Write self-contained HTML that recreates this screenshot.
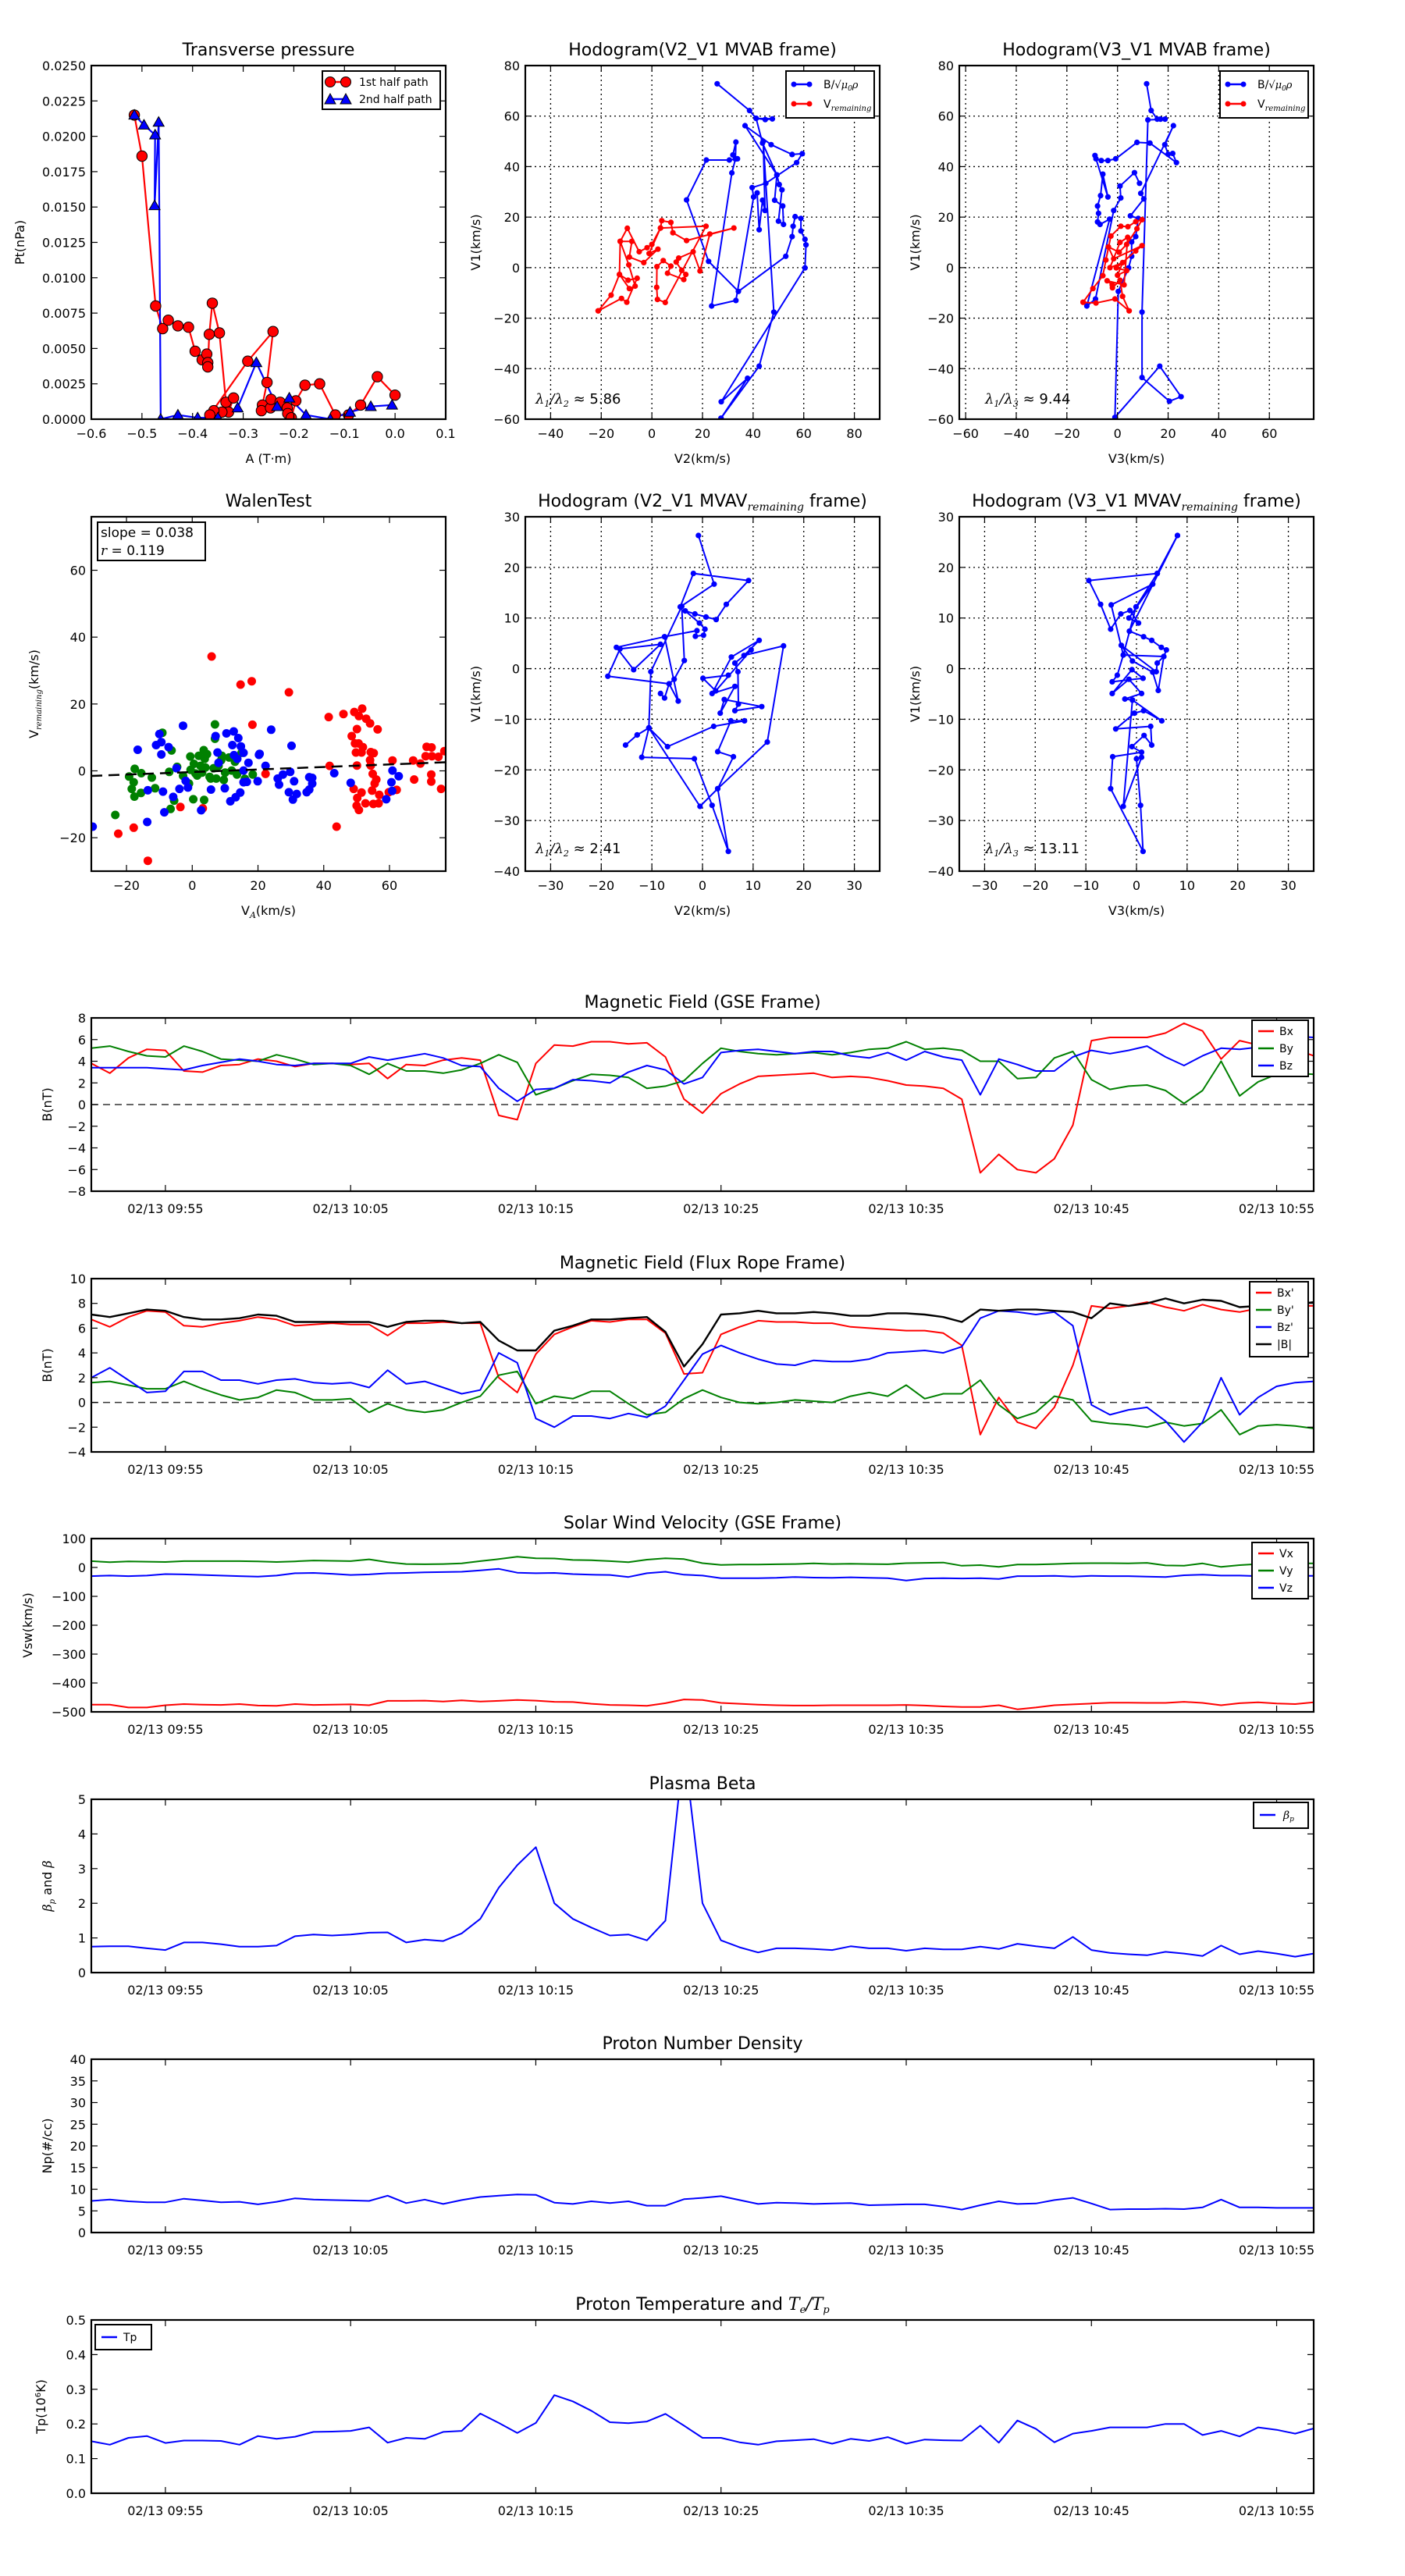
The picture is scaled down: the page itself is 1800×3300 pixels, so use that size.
<!DOCTYPE html>
<html><head><meta charset="utf-8">
<style>
html,body{margin:0;padding:0;background:#fff;}
svg{display:block;font-family:"DejaVu Sans","Liberation Sans",sans-serif;}
</style></head>
<body>
<svg id="fig" width="1800" height="3300" viewBox="0 0 1800 3300" xmlns="http://www.w3.org/2000/svg">
<rect x="0" y="0" width="1800" height="3300" fill="#fff"/>
</svg>
<script>
// ---------- time series data (1-min cadence, index 0 = 09:51) ----------
const timeTickIdx=[4,14,24,34,44,54,64];
const timeTickLabels=["02/13 09:55","02/13 10:05","02/13 10:15","02/13 10:25","02/13 10:35","02/13 10:45","02/13 10:55"];
const gseBx=[3.8,2.9,4.3,5.1,5.0,3.1,3.0,3.6,3.7,4.2,4.0,3.5,3.8,3.8,3.7,3.8,2.4,3.7,3.6,4.1,4.3,4.1,-1.0,-1.4,3.8,5.5,5.4,5.8,5.8,5.6,5.7,4.4,0.5,-0.8,1.0,1.9,2.6,2.7,2.8,2.9,2.5,2.6,2.5,2.2,1.8,1.7,1.5,0.5,-6.3,-4.6,-6.0,-6.3,-5.0,-1.9,5.9,6.2,6.2,6.2,6.6,7.5,6.8,4.2,5.9,5.5,5.3,5.1,4.5];
const gseBy=[5.2,5.4,4.9,4.5,4.4,5.4,4.9,4.2,4.1,4.0,4.6,4.2,3.7,3.8,3.6,2.8,3.8,3.1,3.1,2.9,3.2,3.8,4.6,3.9,0.9,1.5,2.2,2.8,2.7,2.5,1.5,1.7,2.2,3.8,5.2,4.9,4.7,4.6,4.7,4.8,4.6,4.8,5.1,5.2,5.8,5.1,5.2,5.0,4.0,4.0,2.4,2.5,4.3,4.9,2.3,1.4,1.7,1.8,1.3,0.1,1.3,4.0,0.8,2.1,2.8,2.9,2.8];
const gseBz=[3.4,3.4,3.4,3.4,3.3,3.2,3.6,3.9,4.2,4.0,3.7,3.6,3.8,3.8,3.8,4.4,4.1,4.4,4.7,4.3,3.6,3.5,1.5,0.3,1.4,1.5,2.3,2.2,2.0,3.0,3.6,3.2,1.9,2.5,4.8,5.0,5.1,4.9,4.7,4.9,4.9,4.5,4.3,4.8,4.1,4.9,4.4,4.1,0.9,4.2,3.7,3.1,3.1,4.4,5.0,4.7,5.0,5.4,4.4,3.6,4.5,5.2,5.1,5.3,6.2,6.3,6.2];
const frBx=[6.7,6.1,6.9,7.4,7.3,6.2,6.1,6.4,6.6,6.9,6.7,6.2,6.3,6.4,6.3,6.3,5.4,6.4,6.4,6.5,6.4,6.4,2.0,0.8,3.9,5.5,6.1,6.6,6.5,6.7,6.7,5.6,2.3,2.4,5.5,6.1,6.6,6.5,6.5,6.4,6.4,6.1,6.0,5.9,5.8,5.8,5.6,4.6,-2.6,0.4,-1.6,-2.1,-0.4,3.0,7.8,7.6,7.8,8.1,7.7,7.4,7.9,7.5,7.3,7.6,7.7,7.8,7.8];
const frBy=[1.6,1.7,1.4,1.1,1.1,1.7,1.1,0.6,0.2,0.4,1.0,0.8,0.2,0.2,0.3,-0.8,-0.1,-0.6,-0.8,-0.6,0.0,0.5,2.2,2.5,-0.1,0.5,0.3,0.9,0.9,-0.1,-1.0,-0.8,0.3,1.0,0.4,0.0,-0.1,0.0,0.2,0.1,0.0,0.5,0.8,0.5,1.4,0.3,0.7,0.7,1.8,-0.2,-1.3,-0.8,0.5,0.2,-1.5,-1.7,-1.8,-2.0,-1.6,-1.9,-1.7,-0.6,-2.6,-1.9,-1.8,-1.9,-2.1];
const frBz=[2.0,2.8,1.8,0.8,0.9,2.5,2.5,1.8,1.8,1.5,1.8,1.9,1.6,1.5,1.6,1.2,2.6,1.5,1.7,1.2,0.7,1.0,4.0,3.2,-1.3,-2.0,-1.1,-1.1,-1.3,-0.9,-1.2,-0.3,1.8,3.9,4.6,4.0,3.5,3.1,3.0,3.4,3.3,3.3,3.5,4.0,4.1,4.2,4.0,4.5,6.8,7.4,7.3,7.1,7.3,6.2,-0.2,-1.0,-0.6,-0.4,-1.5,-3.2,-1.6,2.0,-1.0,0.4,1.3,1.6,1.7];
const frBt=[7.1,6.9,7.2,7.5,7.4,6.9,6.7,6.7,6.8,7.1,7.0,6.5,6.5,6.5,6.5,6.5,6.1,6.5,6.6,6.6,6.4,6.5,5.0,4.2,4.2,5.8,6.2,6.7,6.7,6.8,6.9,5.7,2.9,4.7,7.1,7.2,7.4,7.2,7.2,7.3,7.2,7.0,7.0,7.2,7.2,7.1,6.9,6.5,7.5,7.4,7.5,7.5,7.4,7.3,6.8,8.0,7.8,8.0,8.4,8.0,8.3,8.2,7.7,7.8,7.8,7.9,8.1];
const velVx=[-475,-475,-485,-485,-477,-473,-475,-476,-473,-478,-479,-473,-476,-475,-474,-477,-462,-462,-461,-464,-460,-464,-462,-459,-461,-465,-466,-472,-476,-477,-479,-470,-457,-459,-469,-472,-475,-477,-478,-478,-477,-477,-477,-477,-476,-478,-481,-483,-483,-477,-491,-485,-477,-474,-471,-468,-468,-469,-469,-465,-469,-477,-470,-467,-471,-473,-467];
const velVy=[22,18,21,20,19,22,22,22,22,21,19,21,24,23,22,28,18,12,11,12,14,22,29,37,32,31,26,25,22,18,27,32,29,15,9,10,10,11,12,14,12,13,12,11,15,16,17,6,8,2,10,10,12,14,15,15,14,16,7,6,14,2,8,12,15,14,14];
const velVz=[-30,-28,-30,-28,-23,-24,-26,-28,-30,-32,-28,-20,-19,-22,-26,-24,-20,-19,-17,-16,-15,-10,-5,-18,-20,-19,-23,-25,-26,-33,-20,-15,-25,-28,-37,-37,-37,-36,-33,-35,-36,-34,-36,-37,-45,-38,-37,-38,-37,-40,-30,-30,-29,-32,-29,-30,-30,-32,-33,-27,-25,-28,-28,-30,-30,-29,-29];
const betaP=[.75,.76,.76,.7,.65,.87,.87,.82,.75,.75,.78,1.05,1.1,1.07,1.1,1.15,1.16,.87,.95,.91,1.13,1.55,2.45,3.1,3.62,2.0,1.55,1.3,1.07,1.1,.93,1.5,6.5,2.0,.93,.73,.58,.7,.7,.68,.65,.76,.7,.7,.63,.7,.67,.67,.75,.68,.83,.76,.7,1.03,.65,.57,.53,.5,.6,.55,.48,.78,.53,.62,.55,.46,.55];
const densNp=[7.3,7.6,7.2,7.0,7.0,7.8,7.4,7.0,7.1,6.5,7.1,7.9,7.6,7.5,7.4,7.3,8.5,6.8,7.6,6.6,7.5,8.2,8.5,8.8,8.7,6.9,6.6,7.2,6.8,7.2,6.2,6.2,7.7,8.0,8.4,7.5,6.6,6.9,6.8,6.6,6.7,6.8,6.3,6.4,6.5,6.5,6.0,5.3,6.3,7.2,6.6,6.7,7.5,8.0,6.7,5.3,5.4,5.4,5.5,5.4,5.8,7.6,5.8,5.8,5.7,5.7,5.7];
const tempTp=[.15,.14,.16,.165,.145,.152,.152,.151,.14,.165,.157,.163,.177,.178,.18,.19,.146,.16,.157,.177,.18,.23,.203,.174,.203,.283,.265,.238,.205,.202,.207,.229,.195,.16,.16,.147,.14,.15,.153,.156,.143,.157,.151,.162,.143,.155,.153,.152,.195,.146,.21,.186,.147,.172,.18,.19,.19,.19,.2,.2,.168,.18,.164,.19,.183,.172,.187];

// ---------- top-left: transverse pressure ----------
const tpRedA=[-0.515,-0.500,-0.473,-0.459,-0.448,-0.429,-0.408,-0.395,-0.381,-0.372,-0.370,-0.370,-0.367,-0.361,-0.347,-0.334,-0.319,-0.329,-0.342,-0.358,-0.366,-0.291,-0.241,-0.253,-0.262,-0.264,-0.246,-0.245,-0.227,-0.213,-0.212,-0.205,-0.196,-0.178,-0.149,-0.118,-0.092,-0.068,-0.035,0.0];
const tpRedPt=[0.0215,0.0186,0.0080,0.0064,0.0070,0.0066,0.0065,0.0048,0.0042,0.0046,0.0040,0.0037,0.0060,0.0082,0.0061,0.0012,0.0015,0.0005,0.0005,0.0006,0.0003,0.0041,0.0062,0.0026,0.0010,0.0006,0.0008,0.0014,0.0012,0.0008,0.0004,0.0001,0.0013,0.0024,0.0025,0.0003,0.0003,0.0010,0.0030,0.0017];
const tpBlueA=[-0.515,-0.496,-0.474,-0.475,-0.467,-0.463,-0.429,-0.390,-0.350,-0.311,-0.274,-0.233,-0.209,-0.176,-0.128,-0.089,-0.048,-0.006];
const tpBluePt=[0.0215,0.0208,0.0201,0.0151,0.0210,0.0,0.0003,0.0001,0.0001,0.0008,0.0040,0.0009,0.0015,0.0003,0.0000,0.0005,0.0009,0.0010];

// ---------- hodogram V2-V1 (MVAB) ----------
const h1BlueV2=[25.8,38.6,41.2,44.8,47.6,41.2,43.7,49.4,50.3,51.4,50.0,52.0,51.7,48.5,49.4,36.8,47.1,55.4,59.4,57.2,45.0,39.6,40.2,41.6,42.4,43.7,44.7,44.0,48.2,42.4,27.3,37.8,27.4,60.5,60.9,60.5,58.9,58.9,56.6,55.8,55.4,52.9,34.2,22.4,13.7,21.5,30.6,33.8,32.0,33.2,33.0,31.6,23.6,33.2,40.2];
const h1BlueV1=[72.8,62.2,59.1,58.6,58.9,59.1,49.3,36.7,32.9,30.8,18.4,17.1,24.4,26.7,36.7,56.2,48.7,44.8,45.1,41.6,33.4,31.7,28.0,29.6,15.0,26.7,22.6,50.0,-17.6,-39.0,-59.6,-43.8,-53.1,-0.1,9.0,11.2,14.5,19.5,20.2,16.4,12.3,4.5,-9.4,2.5,26.8,42.6,42.6,43.1,44.6,49.7,43.0,37.5,-15.2,-13.0,28.0];
const h1RedV2=[-21.2,-16.1,-12.8,-8.9,-6.6,-9.1,-12.5,-9.7,-5.0,-1.9,0.0,3.4,3.9,7.5,8.3,13.7,32.4,22.9,19.0,16.3,10.6,9.6,11.8,13.4,12.6,6.2,7.5,4.5,2.0,1.9,2.2,5.3,21.4,3.4,-1.1,2.4,-3.2,-8.9,-7.9,-12.5,-12.8,-9.4,-5.8,-9.9,-12.0,-21.2];
const h1RedV1=[-17.1,-10.9,-2.7,-8.3,-7.3,1.1,10.4,15.6,6.3,7.9,9.2,15.7,18.6,17.9,13.8,10.7,15.7,13.3,-1.3,6.3,3.8,2.2,-1.1,-2.7,-4.7,-2.2,0.6,2.8,0.4,-7.8,-12.6,-13.8,16.4,15.7,5.6,7.3,2.0,4.2,10.4,10.4,-2.7,-5.0,-4.2,-13.7,-12.2,-17.1];

// ---------- hodogram V3-V1 (MVAB) ----------
const h2BlueV3=[11.5,13.3,15.7,17.0,18.8,12.0,9.7,9.7,20.5,25.1,16.7,-1.0,0.3,4.4,5.6,5.6,7.2,8.2,5.1,10.4,9.2,22.1,18.7,20.0,21.8,23.3,12.8,7.7,-0.7,-3.8,-6.4,-8.5,-8.9,-3.8,-5.8,-6.7,-7.9,-7.5,-7.9,-6.9,-3.1,-12.1,-8.7,-1.5,1.3,1.0,6.7,8.7];
const h2BlueV1=[72.8,62.2,58.8,58.8,58.8,58.5,-17.6,-43.5,-52.9,-51.1,-39.0,-59.3,-9.4,-0.1,4.5,10.2,12.3,19.5,20.5,27.2,29.4,56.2,48.7,44.9,45.2,41.6,49.3,49.6,43.1,42.4,42.4,43.1,44.4,28.0,37.0,28.5,24.4,21.5,18.1,17.1,19.2,-15.2,-12.4,22.6,27.6,32.3,37.6,33.4];
const h2RedV3=[-13.6,-9.7,-5.8,-4.6,-2.6,1.3,4.1,7.2,9.7,7.7,3.6,0.7,-3.6,-1.5,9.7,7.2,-0.5,3.6,0.0,2.0,-3.0,1.0,4.0,2.6,-4.1,-2.1,-2.0,1.0,2.0,4.6,-1.0,-8.5,-13.6];
const h2RedV1=[-13.7,-8.3,-3.2,3.0,12.5,16.4,16.2,18.2,19.0,15.4,9.2,6.1,8.2,3.5,8.7,6.6,-0.1,-1.2,-3.0,2.0,0.0,10.0,12.0,-6.8,-5.2,-6.8,-8.0,-5.0,-11.4,-17.1,-12.4,-14.0,-13.7];

// ---------- Walen test ----------
const walenRed=[[5.9,34.2],[14.7,25.8],[18.1,26.8],[29.4,23.5],[18.3,13.8],[22.3,-0.9],[-3.6,-10.8],[3.2,-11.2],[-17.8,-17],[-22.5,-18.8],[-13.5,-26.9],[43.9,-16.7],[41.5,16.1],[46,17],[49.3,17.6],[51.7,18.6],[50.7,16.4],[52.9,15.6],[54.1,14.2],[56.4,12.4],[50.1,12.5],[48.5,10.4],[49.5,8.2],[50.6,8.2],[51.9,7.1],[49.8,5.5],[51.5,5.5],[54.3,5.6],[55.2,5.3],[54.1,3.2],[60.9,3.1],[50.1,1.6],[54.3,1.6],[41.8,1.5],[54.9,-0.9],[56.0,-2.6],[55.5,-3.8],[49.1,-5.4],[51.5,-6.5],[54.7,-5.9],[56.9,-7.2],[59.8,-6.4],[62.2,-5.7],[50.2,-8.1],[52.7,-9.7],[55.1,-9.9],[56.7,-9.7],[50.0,-10.4],[50.7,-11.7],[67.2,3.1],[69.4,2.2],[71.3,7.2],[72.8,7.0],[71.0,4.4],[72.9,4.4],[74.9,4.2],[76.7,5.9],[67.5,-2.6],[72.7,-1.1],[72.7,-3.2],[75.7,-5.4]];
const walenGreen=[[6.9,13.9],[-9.1,11.4],[6.9,9.6],[-6.3,6.1],[-17.5,0.6],[-19.2,-1.7],[-17.8,-3.4],[-15.5,-0.7],[-7.0,-0.3],[-4.6,1.2],[-2.8,-1.5],[-12.3,-2],[-11.3,-5.2],[-18.4,-5.4],[-15.6,-6.6],[-17.6,-7.7],[0.3,-8.5],[3.6,-8.7],[-5.5,-8.9],[-6.6,-11.4],[-23.4,-13.2],[11.2,4.0],[8.8,3.2],[12.0,0.1],[13.6,-1.1],[16.0,-2.4],[18.4,-1.1],[7.3,-2.3],[9.6,-2.7],[5.6,-2.3],[-0.6,4.3],[0.5,2.1],[2.0,4.5],[3.5,6.2],[3.8,3.6],[4.5,5.0],[2.5,1.5],[1.0,-0.8],[3.0,-0.5],[4.0,1.0],[5.3,-1.8],[6.5,0.8],[8.0,1.5],[-0.5,0.3],[1.5,-1.4],[-1.0,-3.8],[9.0,4.5],[10.0,-0.5],[13.0,2.7],[15.0,5.4]];
const walenBlue=[[-2.8,13.5],[-10,11],[-16.6,6.3],[-11,7.7],[-9.4,8.6],[-7.2,7.1],[-9.4,4.9],[7.1,10.4],[10.4,11.2],[12.6,11.8],[14,9.8],[12.2,7.7],[14.8,7.3],[7.7,5.5],[12.7,4.7],[13.7,3.6],[15.6,5.4],[17.1,2.4],[8.0,2.4],[15.6,0.1],[20.3,4.8],[20.5,5.1],[24,12.3],[22.3,1.5],[30.2,7.5],[43.2,-0.7],[48.2,-3.6],[60.9,0.1],[62.8,-1.6],[60.6,-3.4],[60.8,-6.0],[59,-8.5],[-13.5,-5.8],[-8.9,-6.2],[-5.8,-7.8],[-3.9,-5.4],[-1.3,-5.0],[5.7,-5.6],[9.9,-5.2],[11.6,-9.1],[13.2,-7.9],[14.6,-6.5],[15.6,-3.4],[16.6,-3.3],[19.9,-3.1],[26.0,-2.3],[26.4,-4.1],[27.6,-1.1],[29.8,-0.3],[31.0,-3.1],[29.4,-6.4],[30.6,-8.6],[31.8,-6.9],[34.8,-6.4],[35.6,-5.6],[35.6,-1.9],[36.5,-3.8],[36.5,-2.1],[-8.5,-12.4],[2.7,-11.8],[-13.7,-15.3],[-30.3,-16.7],[-4.8,0.8],[-2.0,-3.0]];
const walenSlope=0.038;
const walenIntercept=-0.35;

// ---------- MVAV hodograms ----------
const m1V2=[-0.8,2.3,-4.4,-1.8,9.1,4.7,2.7,0.7,-1.5,-3.4,-0.6,0.5,0.2,-1.4,-1.1,-7.5,-17.0,-13.6,-8.3,-16.3,-18.7,-6.6,-5.6,-3.6,-4.1,-10.2,-10.6,-12.9,-15.2,-12.9,-10.6,-12.0,-1.6,1.9,5.1,3.0,6.1,3.0,5.6,8.3,2.2,-6.9,-10.6,-0.5,3.0,12.8,16.0,8.2,11.2,5.7,1.9,6.4,3.5,4.3,11.7,6.4,7.1,7.0,6.4,9.6,2.6,0.1,5.1];
const m1V1=[26.3,16.7,12.2,18.8,17.4,12.7,9.7,10.2,10.8,11.4,9.0,7.8,6.6,6.4,7.5,6.3,4.2,-0.2,4.8,3.9,-1.5,-3.0,-2.1,1.6,12.3,-0.6,-11.7,-13.1,-15.1,-13.1,-11.7,-17.5,-17.8,-27.0,-36.1,-23.7,-17.4,-16.4,-10.3,-10.3,-11.4,-15.4,-11.7,-27.2,-23.7,-14.5,4.5,2.6,5.6,2.3,-4.9,-3.5,-8.8,-6.1,-7.5,-8.3,-7.0,-0.6,1.1,3.7,-4.4,-1.9,-1.3];
const m1LeftV2=[-8.3,-7.5,-6.6,-4.8,-7.5];
const m1LeftV1=[-4.9,-5.8,-3.0,-6.4,6.3];
const m2V3=[8.1,4.1,-9.4,-7.1,-5.1,-3.1,-1.3,0.4,-1.5,3.2,-5.0,-2.6,-0.1,4.1,8.1,-1.4,1.4,3.0,4.9,5.9,5.4,4.1,3.9,-3.0,-0.8,3.2,4.3,5.4,-2.6,-3.8,-4.8,1.3,-0.9,-4.8,-1.5,1.0,-2.3,-0.8,5.0,1.4,-0.4,-4.1,2.8,3.0,1.5,-0.9,1.0,-4.7,-5.1,1.3,0.8,0.0,1.0,-2.6,-0.8];
const m2V1=[26.3,18.8,17.4,12.7,7.8,10.8,11.5,9.0,10.0,16.7,12.6,2.7,12.2,18.8,26.3,7.4,6.3,5.6,4.2,3.7,2.4,1.1,-0.6,4.6,1.5,-0.7,-4.3,2.4,2.7,-1.3,-2.6,-1.9,-0.2,-4.9,-2.1,-4.9,-6.0,-6.2,-10.3,-8.3,-8.8,-11.9,-11.4,-15.1,-13.2,-15.4,-16.5,-17.4,-23.7,-36.1,-27.0,-17.8,-17.5,-27.2,-6.2];

// ================= rendering =================
const NS='http://www.w3.org/2000/svg';
const fig=document.getElementById('fig');
let clipN=0;
function mk(tag,parent,attrs){const e=document.createElementNS(NS,tag);if(attrs){for(const k in attrs)e.setAttribute(k,attrs[k]);}parent.appendChild(e);return e;}
function fmtNum(v,d){const s=Math.abs(v).toFixed(d);return (v<0?'\u2212':'')+s;}

function makeAxes(name,box,dom,opt){
  const g=mk('g',fig);
  
  
  const sx=v=>box.l+(v-dom.x0)/(dom.x1-dom.x0)*(box.r-box.l);
  const sy=v=>box.b-(v-dom.y0)/(dom.y1-dom.y0)*(box.b-box.t);
  const id='clip'+(clipN++);
  const cp=mk('clipPath',g,{id:id});
  mk('rect',cp,{x:box.l,y:box.t,width:box.r-box.l,height:box.b-box.t});
  const plot=mk('g',g,{'clip-path':'url(#'+id+')'});
  
  
  if(opt.grid){
    opt.xticks.forEach(v=>{const x=sx(v);const l=mk('line',plot,{x1:x,x2:x,y1:box.t,y2:box.b,stroke:'#000','stroke-width':1.3,'stroke-dasharray':'2,4'});
      
      });
    opt.yticks.forEach(v=>{const y=sy(v);const l=mk('line',plot,{x1:box.l,x2:box.r,y1:y,y2:y,stroke:'#000','stroke-width':1.3,'stroke-dasharray':'2,4'});
      
      });
  }
  const tk=mk('g',g);
  
  
  opt.xticks.forEach((v,i)=>{const x=sx(v);
    mk('line',tk,{x1:x,x2:x,y1:box.b,y2:box.b-8,stroke:'#000','stroke-width':1.2});
    mk('line',tk,{x1:x,x2:x,y1:box.t,y2:box.t+8,stroke:'#000','stroke-width':1.2});
    const t=mk('text',tk,{x:x,y:box.b+(opt.xlabOff||24),'text-anchor':'middle','font-size':opt.tickFs||16});
    t.textContent=opt.xlabels?opt.xlabels[i]:fmtNum(v,opt.xd||0);
    
    });
  opt.yticks.forEach(v=>{const y=sy(v);
    mk('line',tk,{x1:box.l,x2:box.l+8,y1:y,y2:y,stroke:'#000','stroke-width':1.2});
    mk('line',tk,{x1:box.r,x2:box.r-8,y1:y,y2:y,stroke:'#000','stroke-width':1.2});
    const t=mk('text',tk,{x:box.l-7,y:y+6,'text-anchor':'end','font-size':opt.tickFs||16});
    t.textContent=fmtNum(v,opt.yd||0);
    
    });
  const tt=mk('text',g,{x:(box.l+box.r)/2,y:box.t-13,'text-anchor':'middle','font-size':22});
  if(opt.titleHTML){tt.innerHTML=opt.titleHTML;}else{tt.textContent=opt.title;}
  
  
  if(opt.xlabel){const t=mk('text',g,{x:(box.l+box.r)/2,y:box.b+56,'text-anchor':'middle','font-size':16});
    if(opt.xlabelHTML)t.innerHTML=opt.xlabel;else t.textContent=opt.xlabel;
    
    }
  if(opt.ylabel){const yx=opt.ylabX,yy=(box.t+box.b)/2;const t=mk('text',g,{x:yx,y:yy,'text-anchor':'middle','font-size':16,transform:'rotate(-90 '+yx+' '+yy+')'});
    if(opt.ylabelHTML)t.innerHTML=opt.ylabel;else t.textContent=opt.ylabel;
    
    }
  const fr=mk('rect',g,{x:box.l,y:box.t,width:box.r-box.l,height:box.b-box.t,fill:'none',stroke:'#000','stroke-width':2.2});
  
  
  return {g,plot,sx,sy,box};
}
function polyline(ax,xs,ys,color,w,name){
  let d='';for(let i=0;i<xs.length;i++){d+=(i?'L':'M')+ax.sx(xs[i]).toFixed(1)+','+ax.sy(ys[i]).toFixed(1);}
  const p=mk('path',ax.plot,{d:d,fill:'none',stroke:color,'stroke-width':w,'stroke-linejoin':'round'});
  
  
  return p;
}
function dots(ax,xs,ys,color,r,name,edge){
  const g=mk('g',ax.plot);
  
  
  for(let i=0;i<xs.length;i++){const c=mk('circle',g,{cx:ax.sx(xs[i]).toFixed(1),cy:ax.sy(ys[i]).toFixed(1),r:r,fill:color});
    if(edge){c.setAttribute('stroke','#000');c.setAttribute('stroke-width',1);}
    
    }
}
function tris(ax,xs,ys,color,s,name){
  const g=mk('g',ax.plot);
  
  
  for(let i=0;i<xs.length;i++){const x=ax.sx(xs[i]),y=ax.sy(ys[i]);
    const p=mk('polygon',g,{points:(x)+','+(y-s)+' '+(x-s)+','+(y+s*0.75)+' '+(x+s)+','+(y+s*0.75),fill:color,stroke:'#000','stroke-width':1});
    
    }
}
function legendBox(name,x,y,w,h,entries,fs){
  const g=mk('g',fig);
  
  
  mk('rect',g,{x:x,y:y,width:w,height:h,fill:'#fff',stroke:'#000','stroke-width':2});
  entries.forEach((e,i)=>{const yy=y+e.dy;
    const lg=mk('g',g);
    
    
    mk('line',lg,{x1:x+e.lx0,x2:x+e.lx1,y1:yy,y2:yy,stroke:e.color,'stroke-width':2.5});
    if(e.marker==='circle'){mk('circle',lg,{cx:x+e.lx0,cy:yy,r:e.mr,fill:e.color,stroke:e.edge?'#000':'none'});mk('circle',lg,{cx:x+e.lx1,cy:yy,r:e.mr,fill:e.color,stroke:e.edge?'#000':'none'});}
    if(e.marker==='tri'){[x+e.lx0,x+e.lx1].forEach(cx=>mk('polygon',lg,{points:cx+','+(yy-7)+' '+(cx-7)+','+(yy+6)+' '+(cx+7)+','+(yy+6),fill:e.color,stroke:'#000'}));}
    const t=mk('text',lg,{x:x+e.tx,y:yy+5,'font-size':fs});
    t.innerHTML=e.label;});
}
function note(html,x,y,fs,name){const t=mk('text',fig,{x:x,y:y,'font-size':fs});t.innerHTML=html;
  
  }

const ser='font-family="DejaVu Serif, Liberation Serif, serif" font-style="italic"';

{
 const ax=makeAxes('transverse-pressure-chart',{l:117,r:571,t:84,b:537},{x0:-0.6,x1:0.1,y0:0,y1:0.025},
  {title:'Transverse pressure',xticks:[-0.6,-0.5,-0.4,-0.3,-0.2,-0.1,0.0,0.1],xd:1,yticks:[0,0.0025,0.005,0.0075,0.01,0.0125,0.015,0.0175,0.02,0.0225,0.025],yd:4,xlabel:'A (T\u00b7m)',ylabel:'Pt(nPa)',ylabX:31});
 polyline(ax,tpRedA,tpRedPt,'#ff0000',2.2,'first-half-path-line');
 polyline(ax,tpBlueA,tpBluePt,'#0000ff',2.2,'second-half-path-line');
 dots(ax,tpRedA,tpRedPt,'#ff0000',6.7,'first-half-path-markers',true);
 tris(ax,tpBlueA,tpBluePt,'#0000ff',7,'second-half-path-markers');
 legendBox('transverse-pressure-legend',413,91,151,49,[
  {dy:14,lx0:10,lx1:30,color:'#ff0000',marker:'circle',mr:6.5,edge:true,tx:47,label:'1st half path'},
  {dy:36,lx0:10,lx1:30,color:'#0000ff',marker:'tri',tx:47,label:'2nd half path'}],14);
}
const legB='B/<tspan '+ser+' font-size="13">\u221a\u03bc</tspan><tspan '+ser+' font-size="9" dy="3">0</tspan><tspan '+ser+' font-size="13" dy="-3">\u03c1</tspan>';
const legV='V<tspan '+ser+' font-size="10" dy="4">remaining</tspan>';
{
 const ax=makeAxes('hodogram-v2-v1-mvab',{l:673,r:1127,t:84,b:537},{x0:-50,x1:90,y0:-60,y1:80},
  {title:'Hodogram(V2_V1 MVAB frame)',grid:true,xticks:[-40,-20,0,20,40,60,80],yticks:[-60,-40,-20,0,20,40,60,80],xlabel:'V2(km/s)',ylabel:'V1(km/s)',ylabX:615});
 polyline(ax,h1BlueV2,h1BlueV1,'#0000ff',2,'b-alfven-line');
 dots(ax,h1BlueV2,h1BlueV1,'#0000ff',3.6,'b-alfven-points');
 polyline(ax,h1RedV2,h1RedV1,'#ff0000',2,'v-remaining-line');
 dots(ax,h1RedV2,h1RedV1,'#ff0000',3.6,'v-remaining-points');
 legendBox('hodogram-v2-v1-legend',1007,91,113,60,[
  {dy:17,lx0:10,lx1:30,color:'#0000ff',marker:'circle',mr:3.5,tx:48,label:legB},
  {dy:42,lx0:10,lx1:30,color:'#ff0000',marker:'circle',mr:3.5,tx:48,label:legV}],14);
 note('<tspan '+ser+'>\u03bb</tspan><tspan '+ser+' font-size="11" dy="4">1</tspan><tspan dy="-4" '+ser+'>/\u03bb</tspan><tspan '+ser+' font-size="11" dy="4">2</tspan><tspan dy="-4"> \u2248 5.86</tspan>',686,517,18,'eigenvalue-ratio-annotation');
}
{
 const ax=makeAxes('hodogram-v3-v1-mvab',{l:1229,r:1683,t:84,b:537},{x0:-62.5,x1:77.5,y0:-60,y1:80},
  {title:'Hodogram(V3_V1 MVAB frame)',grid:true,xticks:[-60,-40,-20,0,20,40,60],yticks:[-60,-40,-20,0,20,40,60,80],xlabel:'V3(km/s)',ylabel:'V1(km/s)',ylabX:1178});
 polyline(ax,h2BlueV3,h2BlueV1,'#0000ff',2,'b-alfven-line');
 dots(ax,h2BlueV3,h2BlueV1,'#0000ff',3.6,'b-alfven-points');
 polyline(ax,h2RedV3,h2RedV1,'#ff0000',2,'v-remaining-line');
 dots(ax,h2RedV3,h2RedV1,'#ff0000',3.6,'v-remaining-points');
 legendBox('hodogram-v3-v1-legend',1563,91,113,60,[
  {dy:17,lx0:10,lx1:30,color:'#0000ff',marker:'circle',mr:3.5,tx:48,label:legB},
  {dy:42,lx0:10,lx1:30,color:'#ff0000',marker:'circle',mr:3.5,tx:48,label:legV}],14);
 note('<tspan '+ser+'>\u03bb</tspan><tspan '+ser+' font-size="11" dy="4">1</tspan><tspan dy="-4" '+ser+'>/\u03bb</tspan><tspan '+ser+' font-size="11" dy="4">3</tspan><tspan dy="-4"> \u2248 9.44</tspan>',1262,517,18,'eigenvalue-ratio-annotation');
}
{
 const ax=makeAxes('walen-test-chart',{l:117,r:571,t:662,b:1116},{x0:-30.7,x1:77.1,y0:-30,y1:76},
  {title:'WalenTest',xticks:[-20,0,20,40,60],yticks:[-20,0,20,40,60],xlabel:'V<tspan '+ser+' font-size="11" dy="4">A</tspan><tspan dy="-4">(km/s)</tspan>',xlabelHTML:true,
   ylabel:'V<tspan '+ser+' font-size="10" dy="4">remaining</tspan><tspan dy="-4">(km/s)</tspan>',ylabelHTML:true,ylabX:49});
 dots(ax,walenRed.map(p=>p[0]),walenRed.map(p=>p[1]),'#ff0000',5.5,'walen-red-points');
 dots(ax,walenGreen.map(p=>p[0]),walenGreen.map(p=>p[1]),'#008000',5.5,'walen-green-points');
 dots(ax,walenBlue.map(p=>p[0]),walenBlue.map(p=>p[1]),'#0000ff',5.5,'walen-blue-points');
 const fx=[-30.7,77.1];
 const fl=polyline(ax,fx,fx.map(v=>walenSlope*v+walenIntercept),'#000',2.5,'walen-fit-line');
 fl.setAttribute('stroke-dasharray','14,8');
 const g=mk('g',fig);
 
 
 mk('rect',g,{x:125,y:669,width:138,height:49,fill:'#fff',stroke:'#000','stroke-width':2});
 const t1=mk('text',g,{x:129,y:688,'font-size':17});t1.textContent='slope = 0.038';
 const t2=mk('text',g,{x:129,y:711,'font-size':17});t2.innerHTML='<tspan '+ser+'>r</tspan> = 0.119';
}
{
 const ax=makeAxes('hodogram-v2-v1-mvav',{l:673,r:1127,t:662,b:1116},{x0:-35,x1:35,y0:-40,y1:30},
  {titleHTML:'Hodogram (V2_V1 MVAV<tspan '+ser+' font-size="14" dy="5">remaining</tspan><tspan dy="-5"> frame)</tspan>',grid:true,xticks:[-30,-20,-10,0,10,20,30],yticks:[-40,-30,-20,-10,0,10,20,30],xlabel:'V2(km/s)',ylabel:'V1(km/s)',ylabX:615});
 polyline(ax,m1V2,m1V1,'#0000ff',2,'hodogram-line');
 polyline(ax,m1LeftV2,m1LeftV1,'#0000ff',2,'hodogram-line-segment');
 dots(ax,m1V2,m1V1,'#0000ff',3.6,'hodogram-points');
 dots(ax,m1LeftV2,m1LeftV1,'#0000ff',3.6,'hodogram-points-segment');
 note('<tspan '+ser+'>\u03bb</tspan><tspan '+ser+' font-size="11" dy="4">1</tspan><tspan dy="-4" '+ser+'>/\u03bb</tspan><tspan '+ser+' font-size="11" dy="4">2</tspan><tspan dy="-4"> \u2248 2.41</tspan>',686,1093,18,'eigenvalue-ratio-annotation');
}
{
 const ax=makeAxes('hodogram-v3-v1-mvav',{l:1229,r:1683,t:662,b:1116},{x0:-35,x1:35,y0:-40,y1:30},
  {titleHTML:'Hodogram (V3_V1 MVAV<tspan '+ser+' font-size="14" dy="5">remaining</tspan><tspan dy="-5"> frame)</tspan>',grid:true,xticks:[-30,-20,-10,0,10,20,30],yticks:[-40,-30,-20,-10,0,10,20,30],xlabel:'V3(km/s)',ylabel:'V1(km/s)',ylabX:1178});
 polyline(ax,m2V3,m2V1,'#0000ff',2,'hodogram-line');
 dots(ax,m2V3,m2V1,'#0000ff',3.6,'hodogram-points');
 note('<tspan '+ser+'>\u03bb</tspan><tspan '+ser+' font-size="11" dy="4">1</tspan><tspan dy="-4" '+ser+'>/\u03bb</tspan><tspan '+ser+' font-size="11" dy="4">3</tspan><tspan dy="-4"> \u2248 13.11</tspan>',1262,1093,18,'eigenvalue-ratio-annotation');
}

// ---- time series panels ----
const TL=117,TR=1683,TH=222;
function tsAxes(name,k,y0,y1,yticks,yd,opt){
  const t=Math.round(1304+333.5*k);
  return makeAxes(name,{l:TL,r:TR,t:t,b:t+TH},{x0:0,x1:66,y0:y0,y1:y1},
   Object.assign({xticks:timeTickIdx,xlabels:timeTickLabels,yticks:yticks,yd:yd,xlabOff:28},opt));
}
function idx(n){return Array.from({length:n},(_,i)=>i);}
function zeroLine(ax,name){const l=polyline(ax,[0,66],[0,0],'#333',1.5,name);l.setAttribute('stroke-dasharray','9,6');}
{
 const ax=tsAxes('magnetic-field-gse-chart',0,-8,8,[-8,-6,-4,-2,0,2,4,6,8],0,{title:'Magnetic Field (GSE Frame)',ylabel:'B(nT)',ylabX:66});
 zeroLine(ax,'zero-line');
 polyline(ax,idx(gseBx.length),gseBx,'#ff0000',2,'bx-line');
 polyline(ax,idx(gseBy.length),gseBy,'#008000',2,'by-line');
 polyline(ax,idx(gseBz.length),gseBz,'#0000ff',2,'bz-line');
 legendBox('gse-legend',1604,1307,72,72,[
  {dy:14,lx0:8,lx1:28,color:'#ff0000',tx:35,label:'Bx'},
  {dy:36,lx0:8,lx1:28,color:'#008000',tx:35,label:'By'},
  {dy:58,lx0:8,lx1:28,color:'#0000ff',tx:35,label:'Bz'}],14);
}
{
 const ax=tsAxes('magnetic-field-flux-rope-chart',1,-4,10,[-4,-2,0,2,4,6,8,10],0,{title:'Magnetic Field (Flux Rope Frame)',ylabel:'B(nT)',ylabX:66});
 zeroLine(ax,'zero-line');
 polyline(ax,idx(frBx.length),frBx,'#ff0000',2,'bx-prime-line');
 polyline(ax,idx(frBy.length),frBy,'#008000',2,'by-prime-line');
 polyline(ax,idx(frBz.length),frBz,'#0000ff',2,'bz-prime-line');
 polyline(ax,idx(frBt.length),frBt,'#000000',2.4,'b-total-line');
 legendBox('flux-rope-legend',1601,1642,75,96,[
  {dy:14,lx0:8,lx1:28,color:'#ff0000',tx:35,label:"Bx'"},
  {dy:36,lx0:8,lx1:28,color:'#008000',tx:35,label:"By'"},
  {dy:58,lx0:8,lx1:28,color:'#0000ff',tx:35,label:"Bz'"},
  {dy:80,lx0:8,lx1:28,color:'#000000',tx:35,label:'|B|'}],14);
}
{
 const ax=tsAxes('solar-wind-velocity-chart',2,-500,100,[-500,-400,-300,-200,-100,0,100],0,{title:'Solar Wind Velocity (GSE Frame)',ylabel:'Vsw(km/s)',ylabX:41});
 polyline(ax,idx(velVx.length),velVx,'#ff0000',2,'vx-line');
 polyline(ax,idx(velVy.length),velVy,'#008000',2,'vy-line');
 polyline(ax,idx(velVz.length),velVz,'#0000ff',2,'vz-line');
 legendBox('velocity-legend',1604,1976,72,72,[
  {dy:14,lx0:8,lx1:28,color:'#ff0000',tx:35,label:'Vx'},
  {dy:36,lx0:8,lx1:28,color:'#008000',tx:35,label:'Vy'},
  {dy:58,lx0:8,lx1:28,color:'#0000ff',tx:35,label:'Vz'}],14);
}
{
 const ax=tsAxes('plasma-beta-chart',3,0,5,[0,1,2,3,4,5],0,{title:'Plasma Beta',ylabel:'<tspan '+ser+'>\u03b2</tspan><tspan '+ser+' font-size="10" dy="4">p</tspan><tspan dy="-4"> and </tspan><tspan '+ser+'>\u03b2</tspan>',ylabelHTML:true,ylabX:66});
 polyline(ax,idx(betaP.length),betaP,'#0000ff',2,'beta-p-line');
 legendBox('beta-legend',1606,2309,70,33,[
  {dy:16,lx0:8,lx1:28,color:'#0000ff',tx:38,label:'<tspan '+ser+'>\u03b2</tspan><tspan '+ser+' font-size="9" dy="3">p</tspan>'}],14);
}
{
 const ax=tsAxes('proton-density-chart',4,0,40,[0,5,10,15,20,25,30,35,40],0,{title:'Proton Number Density',ylabel:'Np(#/cc)',ylabX:66});
 polyline(ax,idx(densNp.length),densNp,'#0000ff',2,'np-line');
}
{
 const ax=tsAxes('proton-temperature-chart',5,0,0.5,[0,0.1,0.2,0.3,0.4,0.5],1,{titleHTML:'Proton Temperature and <tspan '+ser+'>T</tspan><tspan '+ser+' font-size="13" dy="4">e</tspan><tspan '+ser+' dy="-4">/T</tspan><tspan '+ser+' font-size="13" dy="4">p</tspan>',ylabel:'Tp(10<tspan font-size="10" dy="-6">6</tspan><tspan dy="6">K)</tspan>',ylabelHTML:true,ylabX:58});
 polyline(ax,idx(tempTp.length),tempTp,'#0000ff',2,'tp-line');
 legendBox('tp-legend',122,2978,72,32,[
  {dy:16,lx0:8,lx1:28,color:'#0000ff',tx:36,label:'Tp'}],14);
}
</script>
</body></html>
